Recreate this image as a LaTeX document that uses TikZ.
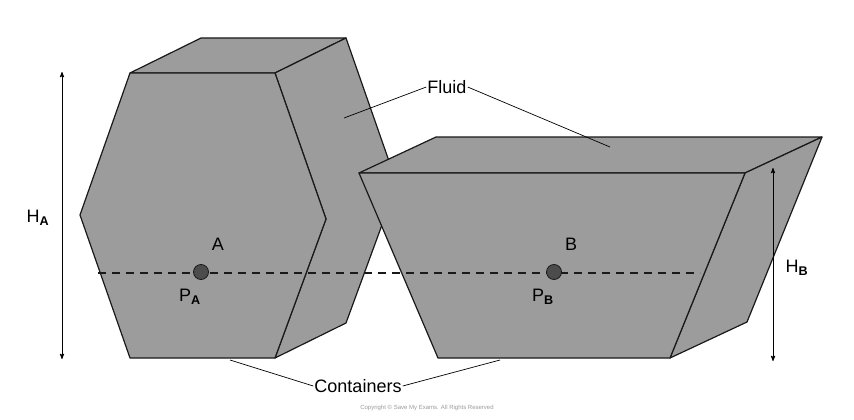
\documentclass[tikz,border=0pt]{standalone}
\usepackage{fontspec}
\setmainfont{Liberation Sans}
\usetikzlibrary{arrows}

\begin{document}
\begin{tikzpicture}[x=1pt, y=-1pt, line join=round]
\tikzstyle{facestyle}=[fill=black!39, draw=black!90, line width=1.2pt]
\tikzstyle{leader}=[black, line width=0.7pt]
\tikzstyle{dimstyle}=[black, line width=0.9pt, <->, >=stealth']
\tikzstyle{pointstyle}=[circle, fill=black!70, draw=black!90, line width=0.8pt, minimum size=15pt, inner sep=0pt]
\tikzstyle{labelstyle}=[font=\fontsize{18}{20}\selectfont, inner sep=1pt]

\useasboundingbox (0,0) rectangle (854,420);

% hexagonal container
\draw[facestyle] (130,73) -- (201,38) -- (346,38) -- (275,73) -- cycle;
\draw[facestyle] (275,73) -- (346,38) -- (397,184) -- (346,323) -- (275,358) -- (326,219) -- cycle;
\draw[facestyle] (130,73) -- (275,73) -- (326,219) -- (275,358) -- (130,358) -- (80,215) -- cycle;

% trapezoidal container
\draw[facestyle] (359,173) -- (436,137) -- (822,137) -- (745,173) -- cycle;
\draw[facestyle] (745,173) -- (822,137) -- (747,322) -- (670,358) -- cycle;
\draw[facestyle] (359,173) -- (745,173) -- (670,358) -- (438,358) -- cycle;

% level line
\coordinate (L0) at (98,273);
\coordinate (L1) at (700,273);
\draw[black!90, line width=1.1pt, dash pattern=on 8pt off 6pt] (L0) -- (L1);

% points
\node[pointstyle] (PA) at (201,272) {};
\node[pointstyle] (PB) at (554,272) {};
\node[labelstyle] (A) at (218,244) {A};
\node[labelstyle] (pA) at (190,297) {P\textsubscript{\textbf{A}}};
\node[labelstyle] (B) at (571,244) {B};
\node[labelstyle] (pB) at (543,297) {P\textsubscript{\textbf{B}}};

% heights
\coordinate (HAt) at (62,72);
\coordinate (HAb) at (62,359);
\draw[dimstyle] (HAt) -- (HAb);
\node[labelstyle] (HA) at (38,218) {H\textsubscript{\textbf{A}}};
\coordinate (HBt) at (773,168);
\coordinate (HBb) at (773,361);
\draw[dimstyle] (HBt) -- (HBb);
\node[labelstyle] (HB) at (797,268) {H\textsubscript{\textbf{B}}};

% labels
\node[labelstyle] (fluid) at (447,87) {Fluid};
\coordinate (F1) at (344,118);
\coordinate (F2) at (610,147);
\draw[leader] (fluid.west) -- (F1);
\draw[leader] (fluid.east) -- (F2);
\node[labelstyle] (cont) at (358,386) {Containers};
\coordinate (C1) at (230,360);
\coordinate (C2) at (500,360);
\draw[leader] (cont.west) -- (C1);
\draw[leader] (cont.east) -- (C2);

\node[font=\fontsize{6}{7}\selectfont, text=black!40] (copy) at (427,408) {Copyright © Save My Exams. All Rights Reserved};
\end{tikzpicture}
\end{document}
